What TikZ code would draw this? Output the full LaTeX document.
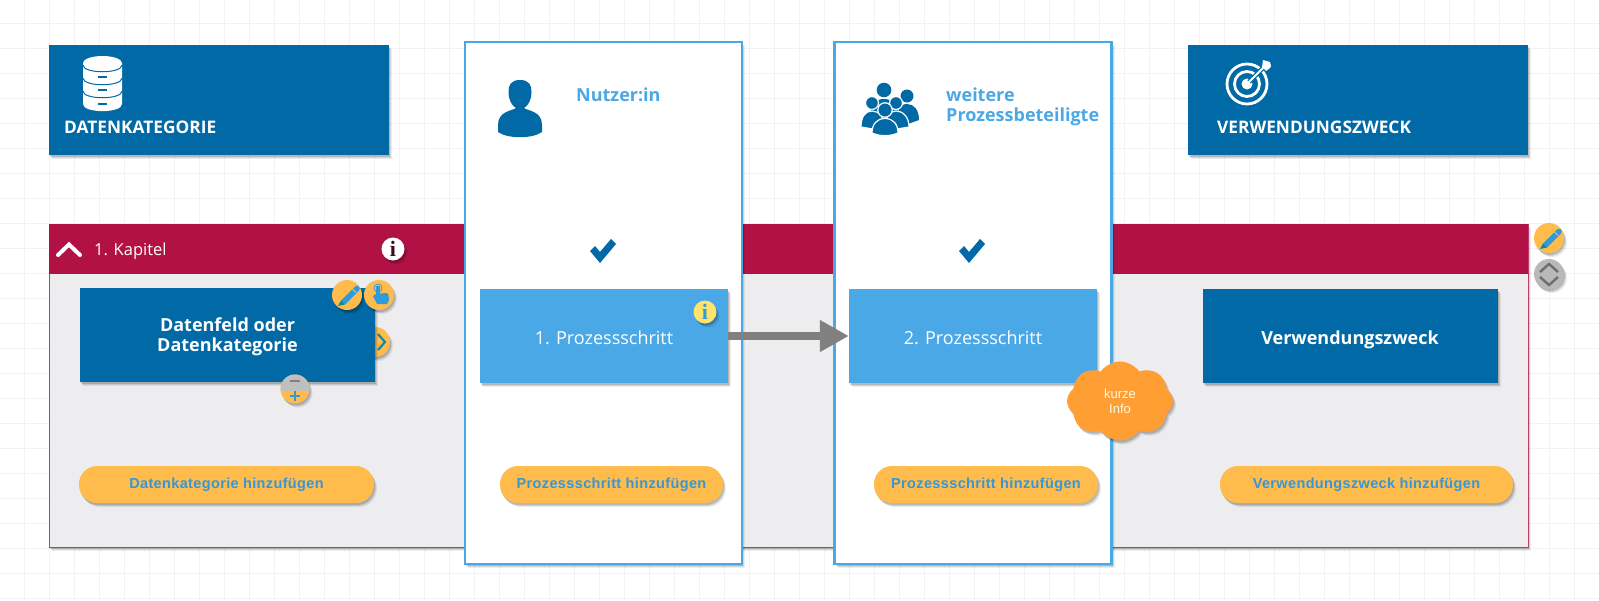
\documentclass[tikz,border=0pt]{standalone}
\usepackage{fontspec}
\setmainfont{Open Sans}
\newfontfamily\arialfont[LetterSpace=2.5]{Liberation Sans}
\newfontfamily\plainarial{Liberation Sans}
\newfontfamily\timesfont{Liberation Serif}
\usepackage{tikz}
\usetikzlibrary{shapes.symbols, shadows, arrows.meta}
\definecolor{navy}{HTML}{0069A6}
\definecolor{sky}{HTML}{4BA8E6}
\definecolor{wine}{HTML}{B21145}
\definecolor{pale}{HTML}{EDECEF}
\definecolor{amber}{HTML}{FFBC4D}
\definecolor{tangerine}{HTML}{FF9E33}
\definecolor{lemon}{HTML}{FFE36B}
\definecolor{slate}{HTML}{808080}
\definecolor{gridline}{HTML}{F3F1F7}
\definecolor{iconblue}{HTML}{2F9BDC}
\definecolor{btntext}{HTML}{3497D9}
\tikzstyle{soft} = [drop shadow={shadow xshift=3pt, shadow yshift=-4pt, opacity=0.07, fill=black}, drop shadow={shadow xshift=2pt, shadow yshift=-3pt, opacity=0.1, fill=black}, drop shadow={shadow xshift=1pt, shadow yshift=-2pt, opacity=0.14, fill=black}]
\tikzstyle{header} = [rectangle, minimum width=340pt, minimum height=110pt, inner sep=0pt, fill=navy, soft]
\tikzstyle{column} = [rectangle, minimum width=277pt, minimum height=522pt, inner sep=0pt, draw=sky, line width=2.5pt, fill=white, soft]
\tikzstyle{card} = [rectangle, minimum height=94pt, inner sep=0pt, soft]
\tikzstyle{datacard} = [card, minimum width=295pt, fill=navy]
\tikzstyle{stepcard} = [card, minimum width=248pt, fill=sky]
\tikzstyle{boldtext} = [inner sep=0pt, align=center, text=white, font=\fontsize{18}{20}\selectfont\bfseries]
\tikzstyle{steptext} = [inner sep=0pt, text=white, font=\fontsize{18}{20}\selectfont]
\tikzstyle{addbtn} = [rectangle, rounded corners=18pt, minimum height=37pt, inner sep=0pt, fill=amber, text=btntext, font=\arialfont\fontsize{14.5}{16}\selectfont\bfseries, soft]
\tikzstyle{round} = [circle, minimum size=30pt, inner sep=0pt, fill=amber, soft]
\tikzstyle{title} = [inner sep=0pt, anchor=west, align=left, text=sky, font=\fontsize{18}{20}\selectfont\bfseries]
\tikzstyle{headtitle} = [inner sep=0pt, anchor=west, text=white, font=\fontsize{17.3}{19}\selectfont\bfseries]
\tikzstyle{infodot} = [circle, minimum size=23pt, inner sep=0pt, font=\timesfont\fontsize{22}{22}\selectfont\bfseries, soft]
\tikzstyle{arrow} = [line width=8pt, slate, -{Triangle[length=29pt, width=30pt]}]
\tikzstyle{ringed} = [draw=white, line width=1.2pt, fill=navy]
\tikzset{
	person/.pic={
		\fill (0,-28) .. controls (-9,-28) and (-11.5,-23) .. (-11.5,-16) .. controls (-11.5,-8) and (-8,-2) .. (-4,0)
			.. controls (-8,3) and (-22,3) .. (-22,17) -- (-22,24) .. controls (-12,31) and (12,31) .. (22,24) -- (22,17)
			.. controls (22,3) and (8,3) .. (4,0) .. controls (8,-2) and (11.5,-8) .. (11.5,-16)
			.. controls (11.5,-23) and (9,-28) .. (0,-28) -- cycle;
	},
	check/.pic={
		\fill (-13,1) -- (-8,-4) -- (-3,2) -- (8,-11) -- (13,-6) -- (-3,13) -- cycle;
	},
	pencil/.pic={
		\fill[iconblue] (-5,5.5) -- (5,-4.5) -- (9,-8.5) .. controls (10,-9.5) and (12,-9.5) .. (13,-8.5)
			.. controls (14,-7.5) and (14,-5.5) .. (13,-4.5) -- (-1,9.5) -- cycle;
		\draw[amber, line width=0.8pt] (5,-7.5) -- (10,-2.5);
		\fill[teal!70!iconblue] (-5,5.5) -- (-1,9.5) -- (-8,11) -- cycle;
	}
}
\begin{document}
\begin{tikzpicture}[x=1pt, y=-1pt]
	\useasboundingbox (0,0) rectangle (1599,600);
	% background grid
	\foreach \gx in {0,...,63} {\draw[gridline, line width=0.8pt] (24+25*\gx,0) -- (24+25*\gx,600);}
	\foreach \gy in {0,...,23} {\draw[gridline, line width=0.8pt] (0,23+25*\gy) -- (1599,23+25*\gy);}
	% headers
	\node (datahead) [header] at (219,100) {};
	\node (purposehead) [header] at (1358,100) {};
	\node (datatitle) [headtitle] at (64,127) {DATENKATEGORIE};
	\node (purposetitle) [headtitle] at (1217,127) {VERWENDUNGSZWECK};
	% database icon
	\fill[white] (83,63) -- (83,104) .. controls (83,113.5) and (122,113.5) .. (122,104) -- (122,63) -- cycle;
	\fill[white] (102.5,63) ellipse [x radius=19.5, y radius=7];
	\foreach \dy in {65,78,91} {
		\draw[navy, line width=1pt] (83,\dy) .. controls (83,\dy+9) and (122,\dy+9) .. (122,\dy);
	}
	\foreach \dy in {77,90,104} {\fill[navy] (98,\dy-0.8) rectangle (107,\dy+0.8);}
	% target icon
	\draw[white, line width=2.8pt] (1247,84) circle [radius=20];
	\draw[white, line width=2.8pt] (1247,84) circle [radius=12.5];
	\fill[white] (1247,84) circle [radius=5.5];
	\draw[navy, line width=4.5pt] (1249,82) -- (1268,63);
	\draw[white, line width=2pt] (1247,84) -- (1264,67);
	\fill[white] (1262,67) -- (1263,60) -- (1270,62) -- (1271,66) -- (1270,68) -- (1266,71) -- cycle;
	% chapter band
	\node (chapterbody) [rectangle, minimum width=1479pt, minimum height=323pt, inner sep=0pt, draw=wine!80!pale, line width=0.7pt, fill=pale, soft] at (788.5,385.5) {};
	\node (chapterband) [rectangle, minimum width=1479pt, minimum height=50pt, inner sep=0pt, fill=wine] at (788.5,249) {};
	\node (chaptertitle) [inner sep=0pt, anchor=west, text=white, font=\fontsize{16.5}{18}\selectfont] at (94,251) {1. Kapitel};
	\draw[white, line width=4pt, line cap=round] (58,255) -- (69,244.5) -- (80,255);
	\node (chapterinfo) [infodot, fill=white, text=wine!40!black] at (393,249) {i};
	% columns
	\node (usercol) [column] at (603.5,303) {};
	\node (partycol) [column] at (973,303) {};
	\path[fill=navy] (520,108) pic {person};
	\node (usertitle) [title] at (576,95) {Nutzer:in};
	\node (partytitle) [title] at (946,106.5) {weitere\\Prozessbeteiligte};
	% group icon
	\fill[navy] (907,96) circle [radius=6.5];
	\fill[navy] (897,122) .. controls (897,110) and (900,104) .. (907,104) .. controls (914,104) and (919,110) .. (919,120) -- (908,124) -- cycle;
	\fill[navy] (884,90) circle [radius=7.3];
	\fill[navy] (870,118) .. controls (870,104) and (876,99) .. (884,99) .. controls (892,99) and (899,104) .. (899,118) -- cycle;
	\filldraw[ringed] (872,103) circle [radius=6.5];
	\filldraw[ringed] (861,127) .. controls (861,117) and (865,111) .. (872,111) .. controls (879,111) and (885,117) .. (885,131) -- cycle;
	\filldraw[ringed] (896,103) circle [radius=6.5];
	\filldraw[ringed] (885,131) .. controls (885,117) and (889,111) .. (896,111) .. controls (903,111) and (909,117) .. (909,127) -- cycle;
	\filldraw[ringed] (885,110) circle [radius=7.2];
	\filldraw[ringed] (872,133) .. controls (872,124) and (877,118.5) .. (885,118.5) .. controls (893,118.5) and (898,124) .. (898,133) .. controls (890,136.5) and (880,136.5) .. (872,133) -- cycle;
	\path[fill=navy] (603,250) pic {check};
	\path[fill=navy] (972,250) pic {check};
	% cards
	\node (chevronbtn) [round] at (375,342) {};
	\draw[teal!60!iconblue, line width=2.2pt] (378,334) -- (385,342) -- (378,350);
	\node (datacard) [datacard] at (227.5,335) {};
	\node (datatext) [boldtext] at (227.5,336.5) {Datenfeld oder\\Datenkategorie};
	\node (step1) [stepcard] at (604,336) {};
	\node (step2) [stepcard] at (973,336) {};
	\node (step1text) [steptext] at (604,338) {1. Prozessschritt};
	\node (step2text) [steptext] at (973,338) {2. Prozessschritt};
	\node (purposecard) [datacard] at (1350,336) {};
	\node (purposetext) [boldtext] at (1350,340) {Verwendungszweck};
	\draw [arrow] (step1) -- (step2);
	\node (stepinfo) [infodot, fill=lemon, text=iconblue] at (705,312) {i};
	% card buttons
	\node (editbtn) [round] at (347,295) {};
	\node (handbtn) [round] at (379,295) {};
	\path (346,295) pic {pencil};
	\draw[iconblue, line width=0.8pt] (378,288) circle [radius=4];
	\fill[iconblue] (376.2,286) rectangle (379.8,297);
	\fill[iconblue] (373,296) -- (376,294) -- (386,293) .. controls (389,293) and (389,297) .. (389,300) -- (387,304) -- (377,304) -- cycle;
	\node (togglebtn) [round, minimum size=29pt] at (295,389) {};
	\begin{scope}
		\clip (280,373) rectangle (310,390);
		\fill[lightgray] (295,389) circle [radius=14.5];
	\end{scope}
	\draw[slate, line width=1.8pt] (290,381) -- (300,381);
	\draw[iconblue, line width=1.5pt] (290,396) -- (300,396) (295,391) -- (295,401);
	% add buttons
	\node (adddata) [addbtn, minimum width=295pt] at (226.5,484.5) {Datenkategorie hinzufügen};
	\node (addstep1) [addbtn, minimum width=223pt] at (611.5,484.5) {Prozessschritt hinzufügen};
	\node (addstep2) [addbtn, minimum width=224pt] at (986,484.5) {Prozessschritt hinzufügen};
	\node (addpurpose) [addbtn, minimum width=293pt] at (1366.5,484.5) {Verwendungszweck hinzufügen};
	% cloud and side buttons
	\node (infocloud) [cloud, cloud puffs=8, cloud puff arc=110, aspect=1.35, minimum width=106pt, minimum height=79pt, inner sep=0pt, align=center, fill=tangerine, text=white!80!lemon, font=\plainarial\fontsize{13}{15}\selectfont, soft] at (1120,401) {kurze\\Info};
	\node (chapteredit) [round] at (1549,238) {};
	\path (1548,238) pic {pencil};
	\node (chaptermove) [round, fill=lightgray!90!slate] at (1549,274) {};
	\draw[slate!85!black, line width=2.4pt] (1540,272) -- (1549,264) -- (1558,272) (1540,277) -- (1549,285) -- (1558,277);
\end{tikzpicture}
\end{document}
